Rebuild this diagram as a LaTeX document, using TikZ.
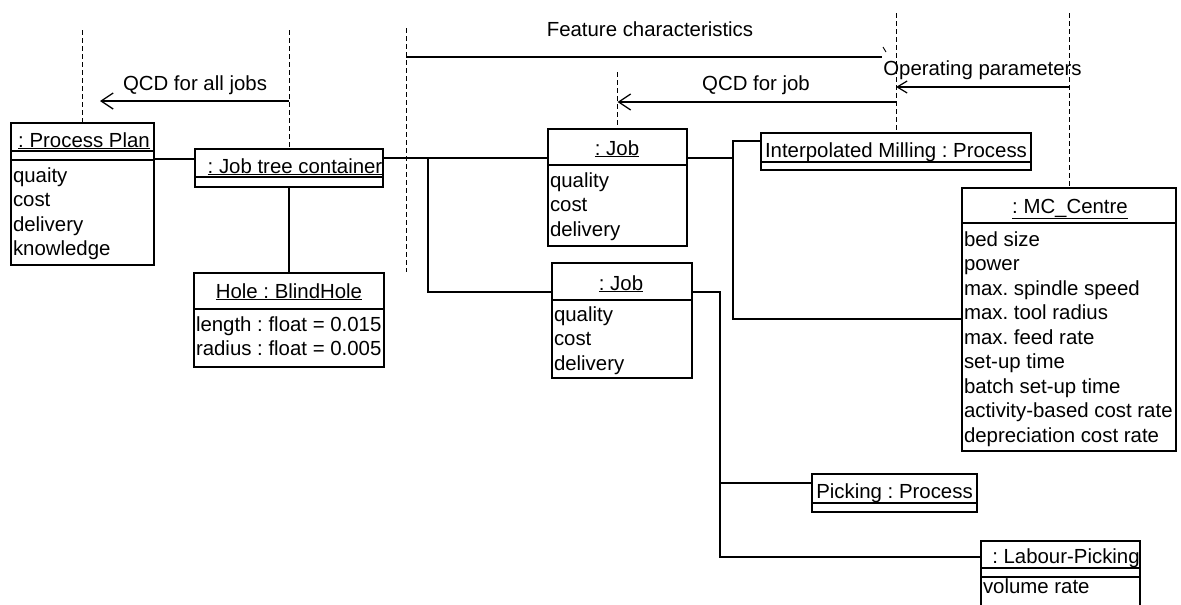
\documentclass[tikz,border=0pt]{standalone}
\usepackage{fontspec}
\setmainfont{Liberation Sans}
\usetikzlibrary{arrows.meta}
\frenchspacing
\begin{document}
\begin{tikzpicture}[x=1pt,y=-1pt,
 obj/.style={draw, line width=2.2pt, inner sep=0pt, outer sep=0pt, anchor=north west},
 sepline/.style={line width=1.8pt},
 lbl/.style={font=\fontsize{20.4}{24}\selectfont\frenchspacing, inner sep=0pt, outer sep=0pt},
 attr/.style={lbl, anchor=base west},
 head/.style={lbl, anchor=base},
 link/.style={line width=1.3pt},
 life/.style={line width=0.9pt, dash pattern=on 5pt off 3pt},
 msg/.style={line width=1.3pt, -{Straight Barb[length=12pt,width=16pt,line width=1.3pt]}}]
\useasboundingbox (0,0) rectangle (1181,605);
\fill[white] (0,0) rectangle (1181,605);
\clip (0,0) rectangle (1181,605);

% ---------- objects ----------
\node[obj, minimum width=143pt, minimum height=142pt] (pp) at (11,123) {};
\node[obj, minimum width=188pt, minimum height=38pt] (jt) at (195,149) {};
\node[obj, minimum width=190pt, minimum height=94pt] (hb) at (194,273) {};
\node[obj, minimum width=139pt, minimum height=117pt] (j1) at (548,129) {};
\node[obj, minimum width=140pt, minimum height=115pt] (j2) at (552,263) {};
\node[obj, minimum width=270pt, minimum height=37pt] (im) at (761,133) {};
\node[obj, minimum width=214pt, minimum height=263pt] (mc) at (962,188) {};
\node[obj, minimum width=165pt, minimum height=38pt] (pk) at (812,474) {};
\node[obj, minimum width=159pt, minimum height=90pt] (lp) at (981,541) {};

% compartment lines
\draw[sepline] (pp.west |- 0,151) -- (pp.east |- 0,151);
\draw[sepline] (pp.west |- 0,160) -- (pp.east |- 0,160);
\draw[sepline] (jt.west |- 0,177) -- (jt.east |- 0,177);
\draw[sepline] (hb.west |- 0,309) -- (hb.east |- 0,309);
\draw[sepline] (j1.west |- 0,165) -- (j1.east |- 0,165);
\draw[sepline] (j2.west |- 0,300) -- (j2.east |- 0,300);
\draw[sepline] (im.west |- 0,162) -- (im.east |- 0,162);
\draw[sepline] (mc.west |- 0,223) -- (mc.east |- 0,223);
\draw[sepline] (pk.west |- 0,503) -- (pk.east |- 0,503);
\draw[sepline] (lp.west |- 0,568) -- (lp.east |- 0,568);
\draw[sepline] (lp.west |- 0,577) -- (lp.east |- 0,577);

% headers
\node[head] (pph) at (84,147) {\underline{: Process Plan}};
\node[head] (jth) at (295,173) {\underline{: Job tree container}};
\node[head] (hbh) at (289,298) {\underline{Hole : BlindHole}};
\node[head] (j1h) at (617,155) {\underline{: Job}};
\node[head] (j2h) at (621,290) {\underline{: Job}};
\node[head] (imh) at (896,157) {\underline{Interpolated Milling : Process}};
\node[head] (mch) at (1070,213) {\underline{: MC\_Centre}};
\node[head] (pkh) at (894.5,498) {\underline{Picking : Process}};
\node[head] (lph) at (1066,563) {\underline{: Labour-Picking}};

% attributes
\node[attr] (ppa1) at (13,182) {quaity};
\node[attr] (ppa2) at (13,206.5) {cost};
\node[attr] (ppa3) at (13,231) {delivery};
\node[attr] (ppa4) at (13,255.5) {knowledge};
\node[attr] (hba1) at (196,331) {length : float = 0.015};
\node[attr] (hba2) at (196,355) {radius : float = 0.005};
\node[attr] (j1a1) at (550,187) {quality};
\node[attr] (j1a2) at (550,211.5) {cost};
\node[attr] (j1a3) at (550,236) {delivery};
\node[attr] (j2a1) at (554,321) {quality};
\node[attr] (j2a2) at (554,345.5) {cost};
\node[attr] (j2a3) at (554,370) {delivery};
\node[attr] (mca1) at (964,246) {bed size};
\node[attr] (mca2) at (964,270.5) {power};
\node[attr] (mca3) at (964,295) {max. spindle speed};
\node[attr] (mca4) at (964,319.5) {max. tool radius};
\node[attr] (mca5) at (964,344) {max. feed rate};
\node[attr] (mca6) at (964,368.5) {set-up time};
\node[attr] (mca7) at (964,393) {batch set-up time};
\node[attr] (mca8) at (964,417.5) {activity-based cost rate};
\node[attr] (mca9) at (964,442) {depreciation cost rate};
\node[attr] (lpa1) at (983,593) {volume rate};

% ---------- links ----------
\draw[link] (pp.east |- 0,159) -- (jt.west |- 0,159);
\draw[link] (jt.south) -- (hb.north);
\draw[link] (jt.east |- 0,158) -- (j1.west |- 0,158);
\coordinate (b1) at (428,158);
\draw[link] (b1) |- (j2.west |- 0,292);
\coordinate (b2) at (733,141);
\draw[link] (j1.east |- 0,158) -- (b2 |- 0,158);
\draw[link] (im.west |- b2) -- (b2) |- (mc.west |- 0,319);
\coordinate (b3) at (720,292);
\draw[link] (j2.east |- b3) -- (b3) |- (lp.west |- 0,557);
\draw[link] (b3 |- 0,483) -- (pk.west |- 0,483);

% ---------- lifelines ----------
\draw[life] (pp.north |- 0,30) -- (pp.north);
\draw[life] (jt.north |- 0,30) -- (jt.north);
\coordinate (fa) at (406,28);
\coordinate (fb) at (406,272);
\draw[life] (fa) -- (fb);
\draw[life] (j1.north |- 0,72) -- (j1.north);
\draw[life] (im.north |- 0,13) -- (im.north);
\draw[life] (mc.north |- 0,13) -- (mc.north);

% ---------- messages ----------
\draw[msg] (jt.north |- 0,101) -- (100,101);
\node[lbl, anchor=base] (m1) at (195,90) {QCD for all jobs};
\coordinate (fe) at (882,57);
\draw[link] (fa |- fe) -- (fe);
\draw[line width=0.9pt] (883,47) -- (886,52);
\node[lbl, anchor=base] (m2) at (650,36.5) {Feature characteristics};
\draw[msg] (im.north |- 0,102) -- (j1.north |- 0,102);
\node[lbl, anchor=base] (m3) at (756,90) {QCD for job};
\draw[msg, -{Straight Barb[length=10pt,width=12pt,line width=1.2pt]}] (mc.north |- 0,87) -- (im.north |- 0,87);
\node[lbl, anchor=base] (m4) at (982.5,75) {Operating parameters};
\end{tikzpicture}
\end{document}
